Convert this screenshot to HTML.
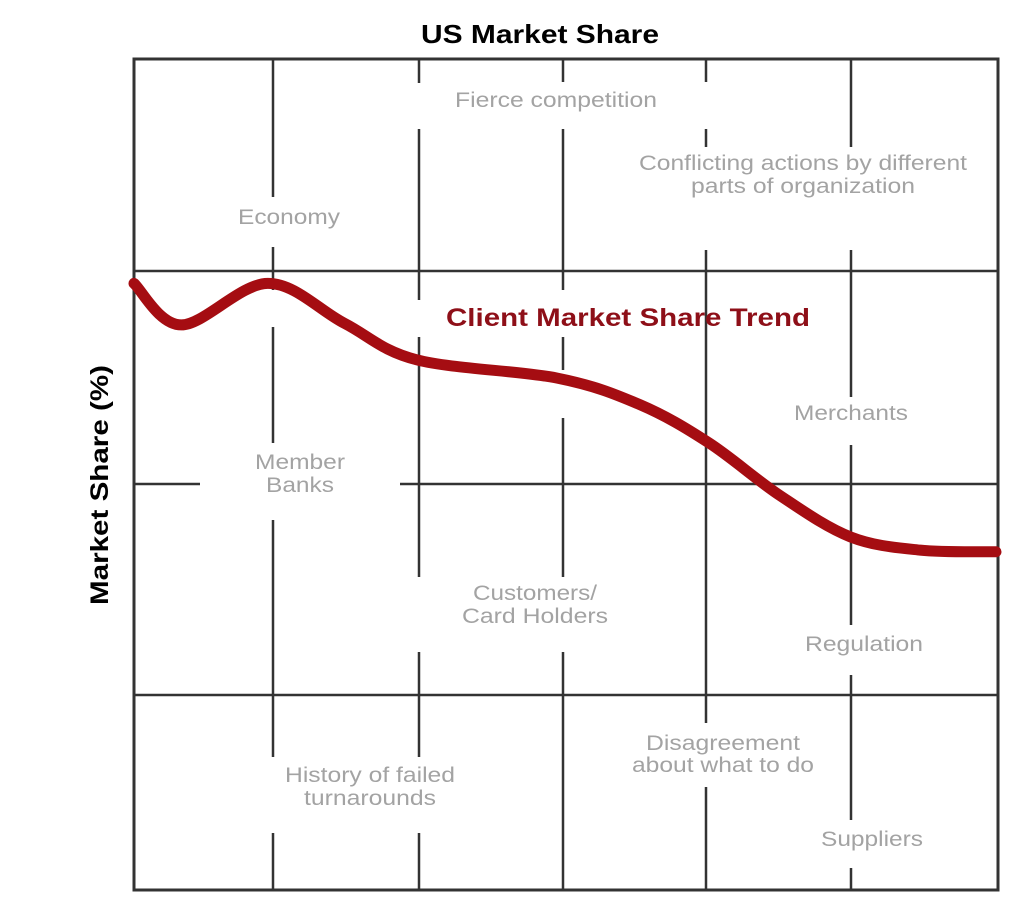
<!DOCTYPE html>
<html><head><meta charset="utf-8"><style>
html,body{margin:0;padding:0;background:#fff;}
svg{display:block;}
.g{fill:#a3a3a3;font-family:"Liberation Sans",sans-serif;font-size:21px;text-anchor:middle;}
</style></head><body>
<svg width="1024" height="923" viewBox="0 0 1024 923">
<text x="540" y="43" text-anchor="middle" font-family="Liberation Sans,sans-serif" font-weight="bold" font-size="26" textLength="238" lengthAdjust="spacingAndGlyphs">US Market Share</text>
<text transform="translate(108,485) rotate(-90)" text-anchor="middle" font-family="Liberation Sans,sans-serif" font-weight="bold" font-size="25" textLength="240" lengthAdjust="spacingAndGlyphs">Market Share (%)</text>
<g id="grid" stroke="#333" stroke-width="2.5">
<rect x="134" y="59" width="864" height="831" fill="none" stroke-width="3"/>
<line x1="134" y1="271" x2="998" y2="271"/>
<line x1="134" y1="484" x2="200" y2="484"/>
<line x1="400" y1="484" x2="998" y2="484"/>
<line x1="134" y1="695" x2="998" y2="695"/>
<path d="M273 59V197M273 247V290M273 327V443M273 520V757M273 833V890"/>
<path d="M419 59V83M419 129V300M419 337V577M419 652V757M419 833V890"/>
<path d="M563 59V82M563 129V290M563 337V370M563 418V577M563 652V890"/>
<path d="M706 59V82M706 129V147M706 250V723M706 787V890"/>
<path d="M851 59V147M851 250V397M851 445V625M851 675V820M851 868V890"/>
</g>
<text class="g" x="289" y="224" textLength="102" lengthAdjust="spacingAndGlyphs">Economy</text>
<text class="g" x="556" y="107" textLength="202" lengthAdjust="spacingAndGlyphs">Fierce competition</text>
<text class="g" x="803" y="170" textLength="328" lengthAdjust="spacingAndGlyphs">Conflicting actions by different</text>
<text class="g" x="803" y="193" textLength="224" lengthAdjust="spacingAndGlyphs">parts of organization</text>
<text class="g" x="851" y="420" textLength="114" lengthAdjust="spacingAndGlyphs">Merchants</text>
<text class="g" x="300" y="469" textLength="90" lengthAdjust="spacingAndGlyphs">Member</text>
<text class="g" x="300" y="492" textLength="68" lengthAdjust="spacingAndGlyphs">Banks</text>
<text class="g" x="535" y="600" textLength="124" lengthAdjust="spacingAndGlyphs">Customers/</text>
<text class="g" x="535" y="623" textLength="146" lengthAdjust="spacingAndGlyphs">Card Holders</text>
<text class="g" x="864" y="651" textLength="118" lengthAdjust="spacingAndGlyphs">Regulation</text>
<text class="g" x="723" y="750" textLength="154" lengthAdjust="spacingAndGlyphs">Disagreement</text>
<text class="g" x="723" y="772" textLength="182" lengthAdjust="spacingAndGlyphs">about what to do</text>
<text class="g" x="370" y="782" textLength="170" lengthAdjust="spacingAndGlyphs">History of failed</text>
<text class="g" x="370" y="805" textLength="132" lengthAdjust="spacingAndGlyphs">turnarounds</text>
<text class="g" x="872" y="846" textLength="102" lengthAdjust="spacingAndGlyphs">Suppliers</text>
<text x="628" y="326" text-anchor="middle" fill="#8e0f18" font-family="Liberation Sans,sans-serif" font-weight="bold" font-size="25" textLength="364" lengthAdjust="spacingAndGlyphs">Client Market Share Trend</text>
<path id="trend" fill="none" stroke="#a50d12" stroke-width="11" stroke-linecap="round" stroke-linejoin="round"/>
</svg>
<script>
const trendTime = [0, 5.5, 15.5, 24.4, 32.8, 49.1, 58.7, 66.7, 74.9, 83.1, 91.2, 100];
const trendShare = [73.0, 68.0, 73.0, 68.2, 63.8, 61.6, 58.4, 53.8, 47.5, 42.5, 40.9, 40.7];
const xScale = t => 134 + (t / 100) * 862;
const yScale = v => 890 - (v / 100) * 831;
const pts = trendTime.map((t, i) => [xScale(t), yScale(trendShare[i])]);
let d = 'M' + pts[0][0] + ' ' + pts[0][1];
for (let i = 0; i < pts.length - 1; i++) {
  const p0 = pts[i - 1] || pts[i], p1 = pts[i], p2 = pts[i + 1], p3 = pts[i + 2] || p2;
  const c1x = p1[0] + (p2[0] - p0[0]) / 6, c1y = p1[1] + (p2[1] - p0[1]) / 6;
  const c2x = p2[0] - (p3[0] - p1[0]) / 6, c2y = p2[1] - (p3[1] - p1[1]) / 6;
  d += ' C' + c1x + ' ' + c1y + ' ' + c2x + ' ' + c2y + ' ' + p2[0] + ' ' + p2[1];
}
document.getElementById('trend').setAttribute('d', d);
</script>
</body></html>
